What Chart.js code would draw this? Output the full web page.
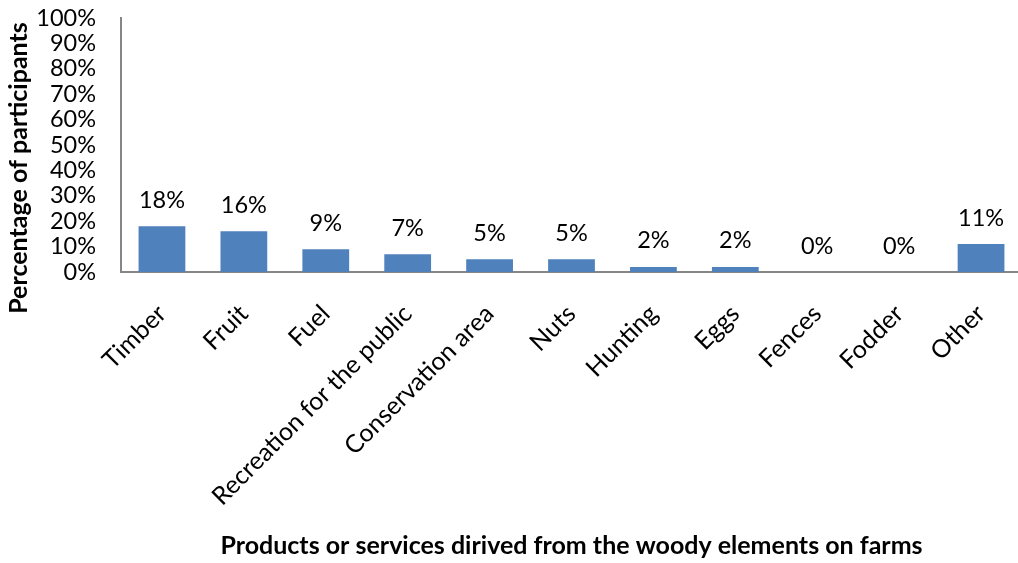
<!DOCTYPE html>
<html>
<head>
<meta charset="utf-8">
<script src="https://cdn.jsdelivr.net/npm/chart.js@4/dist/chart.umd.min.js"></script>
<style>
  html, body { margin: 0; padding: 0; background: #ffffff; overflow: hidden; }
  #wrap { width: 1018px; height: 563px; overflow: hidden; }
  canvas { display: block; }
</style>
</head>
<body>
<div id="wrap"><canvas id="chart" width="1022" height="563"></canvas></div>
<script>
// Products or services derived from woody elements on farms (% of participants)
const categories = ['Timber', 'Fruit', 'Fuel', 'Recreation for the public', 'Conservation area',
  'Nuts', 'Hunting', 'Eggs', 'Fences', 'Fodder', 'Other'];
const percentages = [18, 16, 9, 7, 5, 5, 2, 2, 0, 0, 11];
const yTicks = [0, 10, 20, 30, 40, 50, 60, 70, 80, 90, 100];

const FONT = 'Lato, "Open Sans", sans-serif';
const AXIS_GREY = '#868686';

// Percentage text printed above each bar
const valueLabels = {
  id: 'valueLabels',
  afterDatasetsDraw(chart) {
    const ctx = chart.ctx;
    const meta = chart.getDatasetMeta(0);
    ctx.save();
    ctx.font = '23.5px ' + FONT;
    ctx.fillStyle = '#000000';
    ctx.textAlign = 'center';
    ctx.textBaseline = 'middle';
    meta.data.forEach((bar, i) => {
      ctx.fillText(percentages[i] + '%', bar.x, bar.y - 26);
    });
    ctx.restore();
  }
};

// Vertical axis title, placed beside the tick labels
const yTitle = {
  id: 'yTitle',
  afterDraw(chart) {
    const ctx = chart.ctx;
    ctx.save();
    ctx.font = 'bold 25px ' + FONT;
    ctx.fillStyle = '#000000';
    ctx.textAlign = 'center';
    ctx.textBaseline = 'middle';
    ctx.translate(19, 168);
    ctx.rotate(-Math.PI / 2);
    ctx.fillText('Percentage of participants', 0, 0);
    ctx.restore();
  }
};

new Chart(document.getElementById('chart'), {
  type: 'bar',
  data: {
    labels: categories,
    datasets: [{
      data: percentages,
      backgroundColor: '#4F81BD',
      borderWidth: 0,
      barPercentage: 0.571,
      categoryPercentage: 1.0
    }]
  },
  options: {
    responsive: false,
    animation: false,
    layout: { padding: { top: 18, left: 0, right: 0, bottom: 0 } },
    plugins: { legend: { display: false }, tooltip: { enabled: false } },
    scales: {
      x: {
        grid: { display: false, drawTicks: false },
        border: { color: AXIS_GREY, width: 2 },
        ticks: {
          color: '#000000',
          font: { family: FONT, size: 25 },
          maxRotation: 45, minRotation: 45,
          autoSkip: false,
          padding: 27
        },
        title: {
          display: true,
          text: 'Products or services dirived from the woody elements on farms',
          color: '#000000',
          font: { family: FONT, size: 25, weight: 'bold' },
          padding: { top: 4, bottom: 2 }
        },
        afterFit(scale) {
          scale.height = 291;
          scale.paddingLeft = 0;
          scale.paddingRight = 0;
        }
      },
      y: {
        min: 0, max: 100,
        grid: { display: false, drawTicks: false },
        border: { color: AXIS_GREY, width: 2 },
        afterBuildTicks(scale) { scale.ticks = yTicks.map(v => ({ value: v })); },
        ticks: {
          color: '#000000',
          font: { family: FONT, size: 23.5 },
          padding: 25,
          autoSkip: false,
          callback: v => v + '%'
        },
        afterFit(scale) {
          scale.width = 121;
          scale.paddingTop = 0;
          scale.paddingBottom = 0;
        }
      }
    }
  },
  plugins: [valueLabels, yTitle]
});
</script>
</body>
</html>
